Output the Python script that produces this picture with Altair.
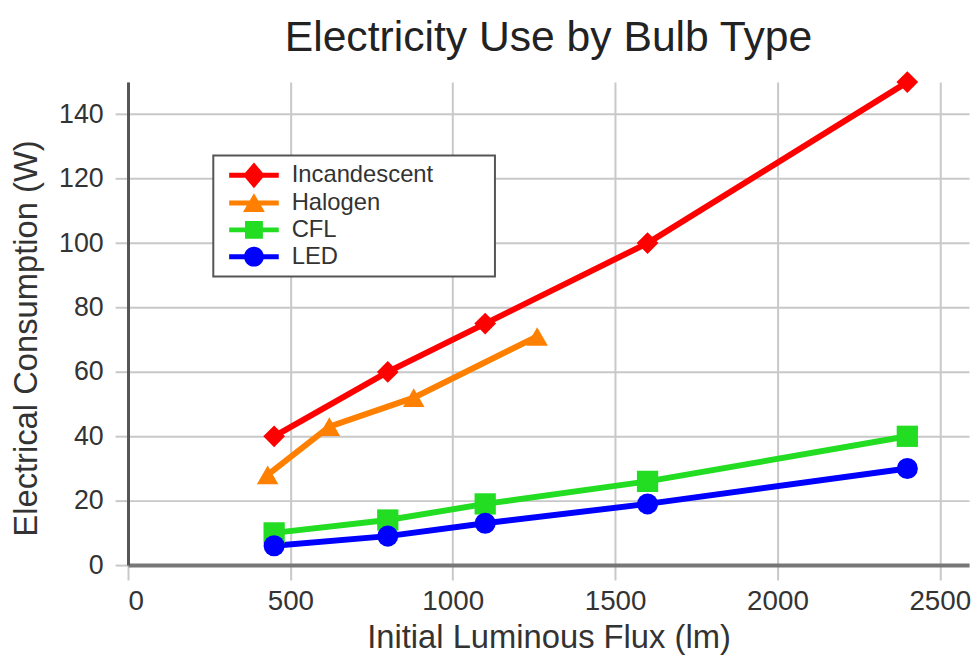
import altair as alt
import pandas as pd

# ---- data ----
series_names = ["Incandescent", "Halogen", "CFL", "LED"]

incandescent_lm = [450, 800, 1100, 1600, 2400]
incandescent_w = [40, 60, 75, 100, 150]
halogen_lm = [430, 620, 880, 1260]
halogen_w = [28, 43, 52, 71]
cfl_lm = [450, 800, 1100, 1600, 2400]
cfl_w = [10, 14, 19, 26, 40]
led_lm = [450, 800, 1100, 1600, 2400]
led_w = [6, 9, 13, 19, 30]

x_ticks = [0, 500, 1000, 1500, 2000, 2500]
y_ticks = [0, 20, 40, 60, 80, 100, 120, 140]

# ---- styles ----
series_colors = ["#ff0000", "#ff8000", "#22dd22", "#0000ff"]
marker_shapes = ["diamond", "triangle-up", "square", "circle"]
marker_sizes = [480, 450, 340, 420]
stub = "M-2.5,-0.25 H2.5 V0.25 H-2.5 Z "
legend_paths = [
    stub + "M0,-1.3 L1.1,0 L0,1.3 L-1.1,0 Z",
    stub + "M0,-1 L1.1,0.9 L-1.1,0.9 Z",
    stub + "M-0.9,-0.9 H0.9 V0.9 H-0.9 Z",
    stub + "M-1,0 A1,1 0 1,1 1,0 A1,1 0 1,1 -1,0 Z",
]

FONT = "Liberation Sans"
# blank room to the right of the legend labels (zero-width end keeps it from being trimmed)
LABEL_PAD = "\u00a0" * 8 + "\u200b"

rows = []
for name, xs, ys in zip(series_names,
                         [incandescent_lm, halogen_lm, cfl_lm, led_lm],
                         [incandescent_w, halogen_w, cfl_w, led_w]):
    for a, b in zip(xs, ys):
        rows.append({"series": name, "lm": a, "w": b})
df = pd.DataFrame(rows)

x_enc = alt.X(
    "lm:Q",
    scale=alt.Scale(domain=[0, 2590], nice=False, zero=False),
    axis=alt.Axis(
        values=x_ticks, format="d", title="Initial Luminous Flux (lm)", grid=True,
        gridColor="#c8c8c8", gridWidth=2, domainColor="#777777", domainWidth=4,
        tickColor="#c8c8c8", tickWidth=2, tickSize=15,
        labelFontSize=28, labelPadding=8, labelColor="#333333", labelFont=FONT,
        titleFontSize=33, titleFont=FONT, titleFontWeight="normal", titleColor="#333333",
        titleX=424, titleY=73, titleBaseline="middle",
    ),
)
y_enc = alt.Y(
    "w:Q",
    scale=alt.Scale(domain=[0, 150], nice=False),
    axis=alt.Axis(
        values=y_ticks, title="Electrical Consumption (W)", grid=True,
        gridColor="#c8c8c8", gridWidth=2, domainColor="#555555", domainWidth=3,
        tickColor="#c8c8c8", tickWidth=2, tickSize=13,
        labelFontSize=27, labelPadding=12, labelColor="#333333", labelFont=FONT,
        titleFontSize=33, titleFont=FONT, titleFontWeight="normal", titleColor="#333333",
        titleX=-102, titleY=258, titleBaseline="middle",
    ),
)

color_scale = alt.Scale(domain=series_names, range=series_colors)

base = alt.Chart(df)

lines = base.mark_line(strokeWidth=6, clip=False).encode(
    x=x_enc, y=y_enc,
    color=alt.Color("series:N", scale=color_scale, legend=None),
)

points = base.mark_point(filled=True, opacity=1, clip=False).encode(
    x=x_enc, y=y_enc,
    color=alt.Color("series:N", scale=color_scale, legend=None),
    shape=alt.Shape("series:N", scale=alt.Scale(domain=series_names, range=marker_shapes), legend=None),
    size=alt.Size("series:N", scale=alt.Scale(domain=series_names, range=marker_sizes), legend=None),
)

legend_def = alt.Legend(
    orient="none", legendX=86, legendY=74, title=None,
    fillColor="white", strokeColor="#555555", padding=8, rowPadding=3,
    symbolSize=400, symbolOffset=21, symbolStrokeWidth=0,
    labelOffset=26, labelFontSize=24, labelFont=FONT, labelColor="#333333",
    labelLimit=400,
    labelExpr="datum.label + '" + LABEL_PAD + "'",
)

legend_layer = base.transform_filter("false").mark_point(filled=True, opacity=1, size=400).encode(
    x=x_enc, y=y_enc,
    color=alt.Color("series:N", scale=color_scale, legend=legend_def),
    shape=alt.Shape("series:N", scale=alt.Scale(domain=series_names, range=legend_paths), legend=legend_def),
)

chart = alt.layer(lines, points, legend_layer).resolve_scale(
    color="independent", shape="independent"
).properties(
    width=848, height=487,
    title=alt.TitleParams("Electricity Use by Bulb Type", fontSize=43, font=FONT,
                          fontWeight="normal", color="#222222", anchor="middle",
                          frame="group", offset=10),
    autosize=alt.AutoSizeParams(type="none"),
    padding={"left": 121, "top": 72, "right": 3, "bottom": 95},
).configure_view(stroke=None).configure_legend(strokeWidth=2)

chart.save("out.html", embed_options={"renderer": "svg", "actions": False})
